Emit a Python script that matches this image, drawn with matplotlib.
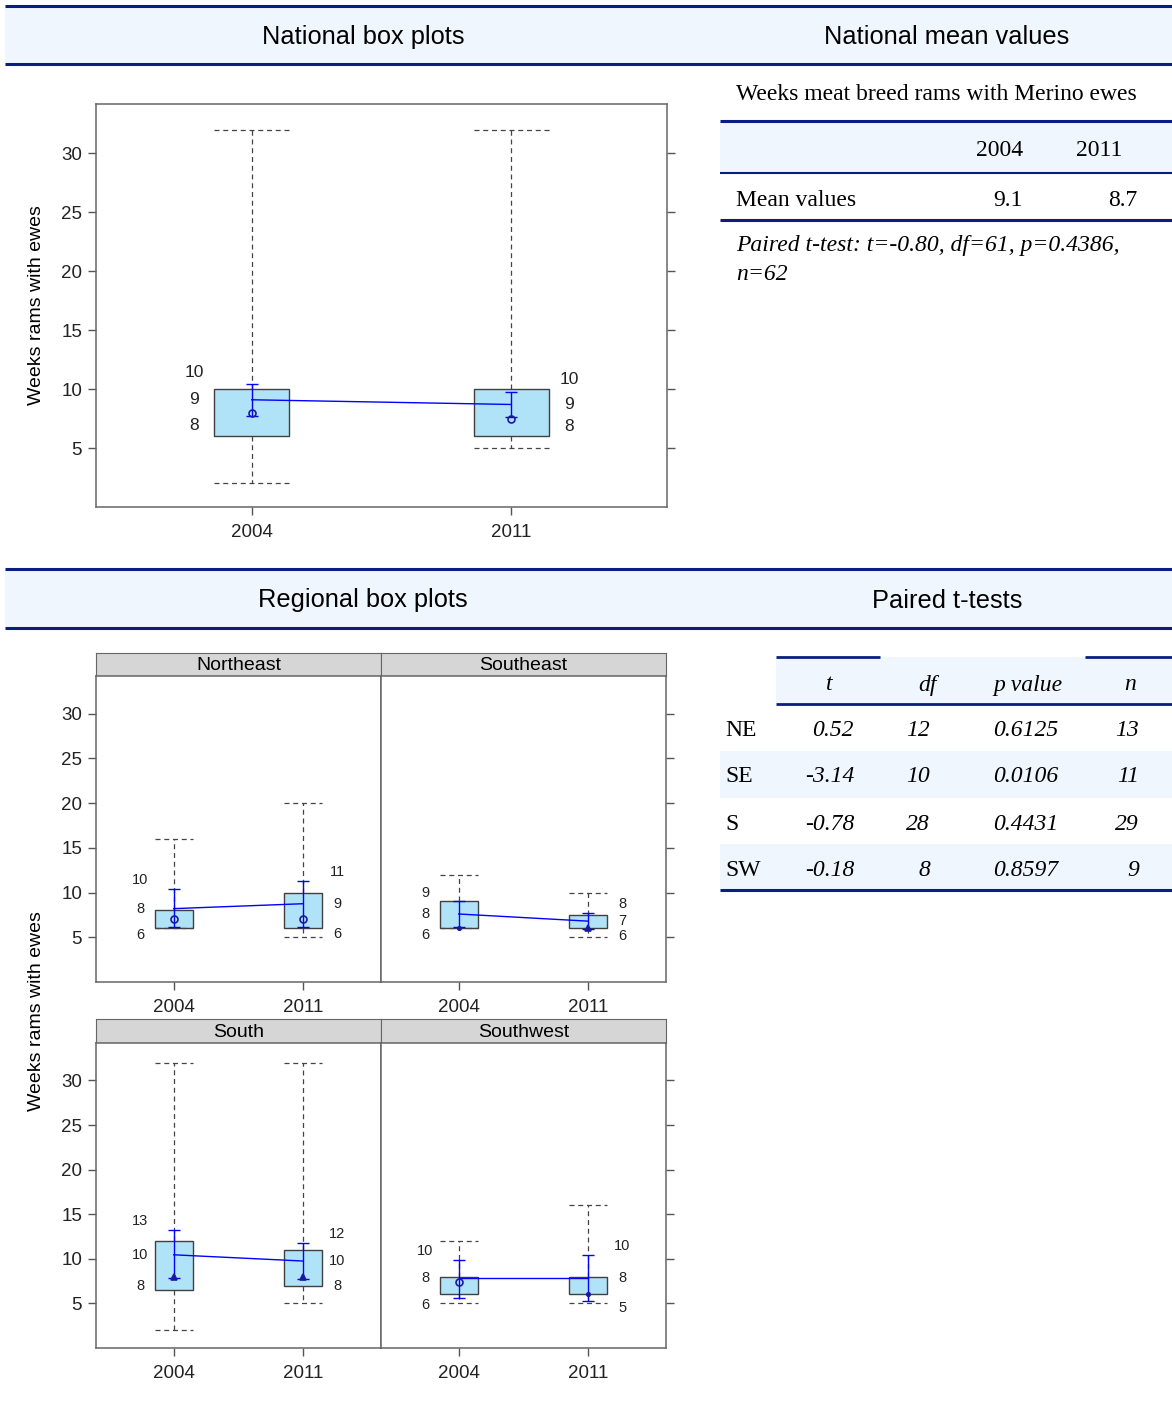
import numpy as np
import matplotlib
matplotlib.use("Agg")
import matplotlib.pyplot as plt
from matplotlib.patches import Rectangle

W, H = 1172, 1403

years = ["2004", "2011"]

# national box plot stats, one value per year (2004, 2011)
nat_q1 = [6, 6]
nat_q3 = [10, 10]
nat_med = [8, 7.5]
nat_wlo = [2, 5]
nat_whi = [32, 32]
nat_mean = [9.1, 8.7]
nat_cilo = [7.75, 7.6]
nat_cihi = [10.45, 9.8]

# regional box plot stats
regions = ["Northeast", "Southeast", "South", "Southwest"]
reg_q1 = [[6, 6], [6, 6], [6.5, 7], [6, 6]]
reg_q3 = [[8, 10], [9, 7.5], [12, 11], [8, 8]]
reg_med = [[7, 7], [6, 6], [8, 8], [7.4, 6]]
reg_wlo = [[6, 5], [6, 5], [2, 5], [5, 5]]
reg_whi = [[16, 20], [12, 10], [32, 32], [12, 16]]
reg_mean = [[8.2, 8.75], [7.6, 6.8], [10.45, 9.75], [7.8, 7.8]]
reg_cilo = [[6.1, 6.2], [6.1, 5.9], [7.8, 7.7], [5.6, 5.3]]
reg_cihi = [[10.35, 11.3], [9.0, 7.7], [13.2, 11.8], [9.9, 10.4]]

# national mean table
mean_vals = [9.1, 8.7]
ttest_note = ["Paired t-test: t=-0.80, df=61, p=0.4386,", "n=62"]

# paired t-tests table
reg_codes = ["NE", "SE", "S", "SW"]
t_vals = [0.52, -3.14, -0.78, -0.18]
df_vals = [12, 10, 28, 8]
p_vals = [0.6125, 0.0106, 0.4431, 0.8597]
n_vals = [13, 11, 29, 9]

NAVY = "#0a1e82"
BAND = "#f0f6fe"
BOX_FILL = "#b0e2f8"
SANS = "Liberation Sans"
SERIF = "Liberation Serif"

plt.rcParams["font.family"] = [SANS, "DejaVu Sans"]


def rect(x0, y0, x1, y1):
    return [x0 / W, 1 - y1 / H, (x1 - x0) / W, (y1 - y0) / H]


def draw_boxes(ax, q1, q3, med, wlo, whi, mean, cilo, cihi, markers, lab_size, lab_dx):
    stats = [dict(q1=a, q3=b, med=m, whislo=lo, whishi=hi, fliers=[])
             for a, b, m, lo, hi in zip(q1, q3, med, wlo, whi)]
    dash = (0, (4, 3))
    ax.bxp(stats, positions=[1, 2], widths=0.29, capwidths=0.29, patch_artist=True,
           showfliers=False,
           boxprops=dict(facecolor=BOX_FILL, edgecolor="#404040", linewidth=1),
           whiskerprops=dict(color="#444444", linestyle=dash, linewidth=0.9),
           capprops=dict(color="#444444", linestyle=dash, linewidth=0.9),
           medianprops=dict(linewidth=0))
    x = np.array([1, 2])
    mean = np.array(mean)
    ax.plot(x, mean, color="blue", lw=1, zorder=4)
    ax.errorbar(x, mean, yerr=[mean - np.array(cilo), np.array(cihi) - mean],
                fmt="none", ecolor="blue", elinewidth=1, capsize=4, zorder=4)
    for xi, mi, mk in zip(x, med, markers):
        ax.plot(xi, mi, marker=mk, ms=5, mec="#1a1aa0", mfc="none" if mk == "o" else "#1a1aa0",
                mew=1.2, zorder=5)
    for i, xi in enumerate(x):
        side = -1 if i == 0 else 1
        xl = xi + side * 0.145
        for val, dy in ((cihi[i], 1.0), (mean[i], 0.0), (cilo[i], -0.8)):
            ax.annotate(f"{val:.0f}", (xl, val + dy), xytext=(side * lab_dx, 0),
                        textcoords="offset points", ha="center", va="center",
                        fontsize=lab_size, color="#222222")


def style_axes(ax, left=True, right=True):
    ax.set_xlim(0.4, 2.6)
    ax.set_ylim(0, 34.2)
    ax.set_yticks([5, 10, 15, 20, 25, 30])
    ax.set_xticks([1, 2])
    ax.set_xticklabels(years)
    ax.tick_params(direction="out", length=6, color="#555555", labelsize=13.5,
                   labelcolor="#222222", width=1)
    ax.tick_params(axis="x", pad=6)
    ax.tick_params(axis="y", left=left, labelleft=left, right=right, labelright=False, pad=4)
    for s in ax.spines.values():
        s.set_color("#666666")
        s.set_linewidth(1.1)


fig = plt.figure(figsize=(W / 100, H / 100), dpi=100)

bg = fig.add_axes([0, 0, 1, 1])
bg.set_xlim(0, W)
bg.set_ylim(H, 0)
bg.axis("off")


def hline(y, x0, x1, lw):
    bg.plot([x0, x1], [y, y], color=NAVY, lw=lw, solid_capstyle="butt")


def stext(x, y, s, **kw):
    # serif table text, nudged to sit like the reference
    bg.text(x, y + 2, s, va="center", fontsize=17, family=SERIF, **kw)


# section header bands
for y0, y1, t1, t2 in ((6, 64, "National box plots", "National mean values"),
                       (569, 628, "Regional box plots", "Paired t-tests")):
    bg.add_patch(Rectangle((5, y0), W - 5, y1 - y0, facecolor=BAND, edgecolor="none"))
    hline(y0, 5, W, 2.2)
    hline(y1, 5, W, 2.2)
    bg.text(363, (y0 + y1) / 2 + 2, t1, ha="center", va="center", fontsize=18.3, family=SANS)
    bg.text(947, (y0 + y1) / 2 + 2, t2, ha="center", va="center", fontsize=18.3, family=SANS)

# national mean values table
stext(736, 93, "Weeks meat breed rams with Merino ewes", ha="left")
bg.add_patch(Rectangle((720, 121), W - 720, 52, facecolor=BAND, edgecolor="none"))
hline(121, 720, W, 2.2)
hline(173, 720, W, 1.5)
hline(220, 720, W, 2.2)
for yr, xc in zip(years, [1000, 1099]):
    stext(xc, 148, yr, ha="center")
stext(736, 198, "Mean values", ha="left")
for v, xc in zip(mean_vals, [1008, 1123]):
    stext(xc, 198, f"{v:.1f}", ha="center")
for line, yc in zip(ttest_note, [244, 272]):
    stext(736, yc, line, ha="left", style="italic")

# paired t-tests table
bg.add_patch(Rectangle((776, 657), W - 776, 47, facecolor=BAND, edgecolor="none"))
hline(657, 776, 880, 2)
hline(657, 1085, W, 2)
hline(704, 776, W, 2)
for lab, xc in zip(["t", "df", "p value", "n"], [829, 928, 1028, 1130]):
    stext(xc, 683, lab, ha="center", style="italic")
row_y = [728, 775, 822, 868]
for i, yc in enumerate(row_y):
    if i % 2 == 1:
        bg.add_patch(Rectangle((720, yc - 24), W - 720, 47, facecolor=BAND, edgecolor="none"))
    stext(725, yc, reg_codes[i], ha="left")
    for txt, xr in ((f"{t_vals[i]:.2f}", 854), (f"{df_vals[i]}", 930),
                    (f"{p_vals[i]:.4f}", 1058), (f"{n_vals[i]}", 1139)):
        stext(xr, yc, txt, ha="right", style="italic")
hline(890, 720, W, 2.2)

# y labels
bg.text(37, 305, "Weeks rams with ewes", rotation=90, ha="center", va="center", fontsize=14)
bg.text(37, 1011, "Weeks rams with ewes", rotation=90, ha="center", va="center", fontsize=14)

# national box plots
ax = fig.add_axes(rect(96, 104, 667, 507))
draw_boxes(ax, nat_q1, nat_q3, nat_med, nat_wlo, nat_whi, nat_mean, nat_cilo, nat_cihi,
           ["o", "o"], 12.5, 14.4)
style_axes(ax, left=True, right=True)

# regional box plots
reg_markers = [["o", "o"], [".", "^"], ["^", "^"], ["o", "."]]
cols = [(96, 381), (381, 666)]
rows = [(653, 676, 982), (1019, 1043, 1348)]
for k, name in enumerate(regions):
    r, c = divmod(k, 2)
    x0, x1 = cols[c]
    s0, p0, p1 = rows[r]
    sax = fig.add_axes(rect(x0, s0, x1, p0))
    sax.set_facecolor("#d6d6d6")
    sax.set_xticks([])
    sax.set_yticks([])
    for s in sax.spines.values():
        s.set_color("#666666")
    sax.text(0.5, 0.45, name, ha="center", va="center", fontsize=14, transform=sax.transAxes)
    pax = fig.add_axes(rect(x0, p0, x1, p1))
    draw_boxes(pax, reg_q1[k], reg_q3[k], reg_med[k], reg_wlo[k], reg_whi[k],
               reg_mean[k], reg_cilo[k], reg_cihi[k], reg_markers[k], 10.5, 10.8)
    style_axes(pax, left=(c == 0), right=(c == 1))

fig.savefig("out.png", dpi=100)
